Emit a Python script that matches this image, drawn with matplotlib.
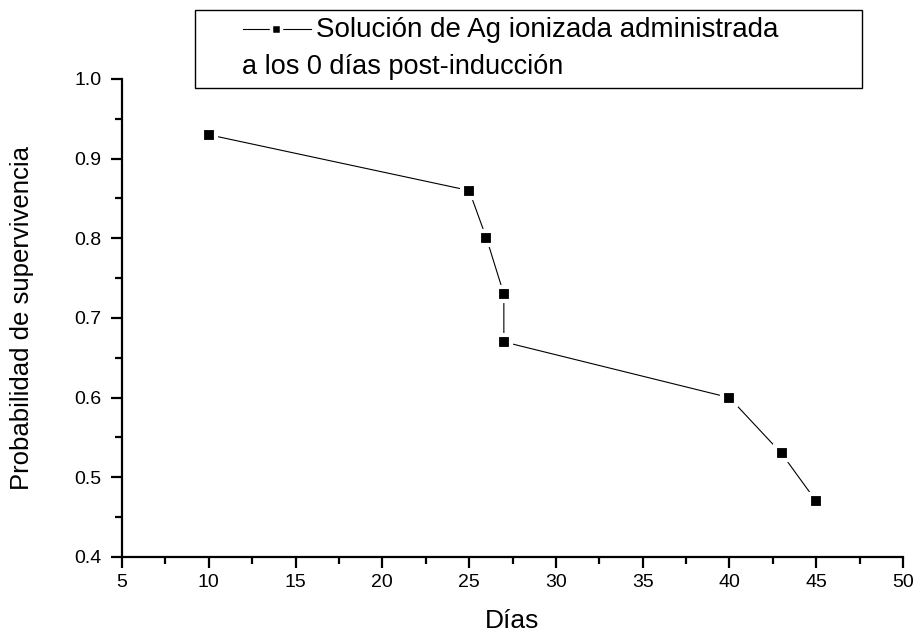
import matplotlib
matplotlib.use("Agg")
import matplotlib.pyplot as plt
from matplotlib.lines import Line2D
from matplotlib.patches import Rectangle
from matplotlib.ticker import MultipleLocator, FormatStrFormatter

plt.rcParams['font.family'] = ['Liberation Sans', 'DejaVu Sans']

# días y probabilidad de supervivencia
dias = [10, 25, 26, 27, 27, 40, 43, 45]
supervivencia = [0.93, 0.86, 0.80, 0.73, 0.67, 0.60, 0.53, 0.47]

etiqueta_1 = "Solución de Ag ionizada administrada"
etiqueta_2 = "a los 0 días post-inducción"

fig = plt.figure(figsize=(9.19, 6.37), dpi=100)
ax = fig.add_axes([0.1328, 0.1256, 0.8498, 0.7504])

estilo = dict(color='black', linewidth=0.8, marker='s', markersize=9.5,
              markerfacecolor='black', markeredgecolor='white', markeredgewidth=3)
ax.plot(dias, supervivencia, **estilo)

ax.set_xlim(5, 50)
ax.set_ylim(0.4, 1.0)
ax.xaxis.set_major_locator(MultipleLocator(5))
ax.xaxis.set_minor_locator(MultipleLocator(2.5))
ax.yaxis.set_major_locator(MultipleLocator(0.1))
ax.yaxis.set_minor_locator(MultipleLocator(0.05))
ax.yaxis.set_major_formatter(FormatStrFormatter('%.1f'))

for lado in ['top', 'right']:
    ax.spines[lado].set_visible(False)
for lado in ['left', 'bottom']:
    ax.spines[lado].set_linewidth(1.6)

ax.tick_params(which='major', direction='out', length=8, width=1.6, labelsize=14)
ax.tick_params(which='minor', direction='out', length=5, width=1.6)
ax.tick_params(axis='x', which='major', pad=4)
ax.tick_params(axis='y', which='major', pad=7)

ax.set_xlabel("Días", fontsize=19, va='center')
ax.set_ylabel("Probabilidad de supervivencia", fontsize=18.5, va='center')
ax.xaxis.set_label_coords(0.5, -0.133)
ax.yaxis.set_label_coords(-0.128, 0.5)

# caja de la leyenda dibujada a mano (dos líneas de texto)
W, H = 919, 637
caja = Rectangle((195 / W, 1 - 88 / H), (862 - 195) / W, (88 - 10) / H,
                 transform=fig.transFigure, fill=True, facecolor='white',
                 edgecolor='black', linewidth=1.0, zorder=5)
fig.patches.append(caja)

muestra = Line2D([243 / W, 276 / W, 311 / W], [1 - 29 / H] * 3,
                 transform=fig.transFigure, color='black', linewidth=0.8,
                 marker='s', markersize=6.5, markerfacecolor='black',
                 markeredgecolor='white', markeredgewidth=2.5, markevery=[1], zorder=6)
fig.lines.append(muestra)

fig.text(316 / W, 1 - 30 / H, etiqueta_1, fontsize=20, va='center', ha='left', zorder=6)
fig.text(242 / W, 1 - 67 / H, etiqueta_2, fontsize=19.5, va='center', ha='left', zorder=6)

fig.savefig("out.png", dpi=100)
